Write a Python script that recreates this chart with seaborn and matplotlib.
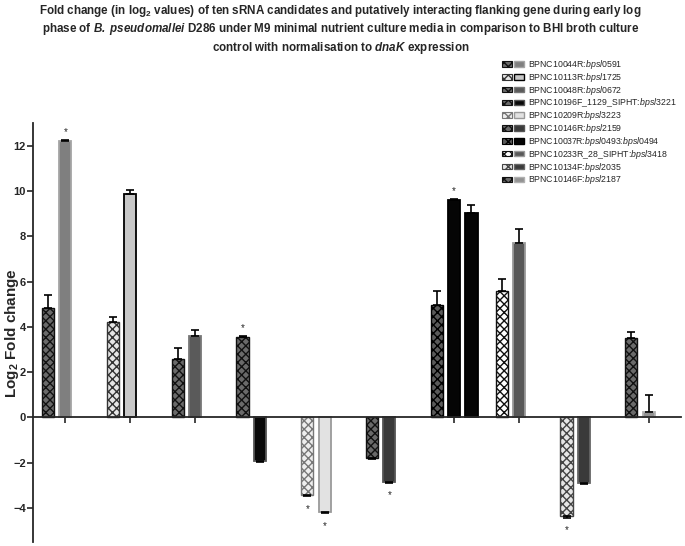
import matplotlib
matplotlib.use('Agg')
import matplotlib.pyplot as plt
import seaborn as sns
import pandas as pd
from matplotlib.patches import Patch
from matplotlib.legend_handler import HandlerTuple

# sRNA candidates and their flanking genes
srna = ['BPNC10044R', 'BPNC10113R', 'BPNC10048R', 'BPNC10196F_1129_SIPHT', 'BPNC10209R',
        'BPNC10146R', 'BPNC10037R', 'BPNC10233R_28_SIPHT', 'BPNC10134F', 'BPNC10146F']
genes = ['bpsl0591', 'bpsl1725', 'bpsl0672', 'bpsl3221', 'bpsl3223',
         'bpsl2159', 'bpsl0493:bpsl0494', 'bpsl3418', 'bpsl2035', 'bpsl2187']

# log2 fold change values
srna_val = [4.82, 4.2, 2.58, 3.55, -3.44, -1.8, 4.95, 5.57, -4.37, 3.51]
srna_err = [0.6, 0.25, 0.47, 0.05, 0.05, 0.05, 0.63, 0.56, 0.05, 0.25]
gene_val = [12.2, 9.87, 3.6, -1.92, -4.19, -2.83, 9.58, 7.7, -2.88, 0.22]
gene_err = [0.05, 0.17, 0.25, 0.05, 0.05, 0.05, 0.05, 0.6, 0.05, 0.75]
gene2_val = [None, None, None, None, None, None, 9.04, None, None, None]
gene2_err = [0, 0, 0, 0, 0, 0, 0.34, 0, 0, 0]

# significance marks: (group, role)
stars = [(0, 'gene'), (3, 'sRNA'), (4, 'sRNA'), (4, 'gene'), (5, 'gene'), (6, 'gene'), (8, 'sRNA')]

# styles: sRNA bars are checkered (face, hatch colour), genes are plain greys
srna_face = ['#6a6a6a', '#e6e6e6', '#6a6a6a', '#6a6a6a', '#eeeeee',
             '#6a6a6a', '#5a5a5a', '#ffffff', '#e6e6e6', '#6a6a6a']
srna_hatch = ['#111111', '#333333', '#111111', '#111111', '#777777',
              '#111111', '#000000', '#111111', '#444444', '#111111']
gene_face = ['#7f7f7f', '#c8c8c8', '#5a5a5a', '#080808', '#e2e2e2',
             '#3a3a3a', '#050505', '#585858', '#3a3a3a', '#929292']
gene_edge = ['#a5a5a5', '#000000', '#777777', '#555555', '#9a9a9a',
             '#555555', '#000000', '#9a9a9a', '#666666', '#b0b0b0']

rows = []
for i, s in enumerate(srna):
    rows.append((s, 'sRNA', srna_val[i]))
    rows.append((s, 'gene', gene_val[i]))
    if gene2_val[i] is not None:
        rows.append((s, 'gene2', gene2_val[i]))
df = pd.DataFrame(rows, columns=['group', 'role', 'value'])

sns.set_style('ticks')
plt.rcParams['font.family'] = ['Liberation Sans', 'DejaVu Sans']
plt.rcParams['mathtext.fontset'] = 'custom'
plt.rcParams['mathtext.rm'] = 'Liberation Sans'
plt.rcParams['mathtext.it'] = 'Liberation Sans:italic'
plt.rcParams['mathtext.bf'] = 'Liberation Sans:bold'
plt.rcParams['mathtext.bfit'] = 'Liberation Sans:italic:bold'
plt.rcParams['hatch.linewidth'] = 1.0

fig = plt.figure(figsize=(6.85, 5.46), dpi=100)
ax = fig.add_axes([33 / 685, 4 / 546, 648 / 685, 419 / 546])

sns.barplot(data=df, x='group', y='value', hue='role', order=srna,
            hue_order=['sRNA', 'gene', 'gene2'], width=0.8, gap=0.3,
            errorbar=None, legend=False, ax=ax)

vals = {'sRNA': srna_val, 'gene': gene_val, 'gene2': gene2_val}
errs = {'sRNA': srna_err, 'gene': gene_err, 'gene2': gene2_err}
centers = {}
for p in ax.patches:
    cx = p.get_x() + p.get_width() / 2
    g = int(round(cx))
    off = cx - g
    role = 'sRNA' if off < -0.1 else ('gene2' if off > 0.1 else 'gene')
    centers[(g, role)] = cx
    if role == 'sRNA':
        p.set_facecolor(srna_face[g])
        p.set_edgecolor(srna_hatch[g])
        p.set_hatch('xxxx')
        p.set_linewidth(1.0)
    else:
        p.set_facecolor(gene_face[g])
        p.set_edgecolor(gene_edge[g])
        p.set_linewidth(1.3)
    v = vals[role][g]
    e = errs[role][g]
    yerr = [[0], [e]] if v > 0 else [[e], [0]]
    ax.errorbar(cx, v, yerr=yerr, fmt='none', ecolor='black', elinewidth=1.2,
                capsize=3, capthick=1.2, zorder=3)

for g, role in stars:
    v = vals[role][g]
    e = errs[role][g]
    if v > 0:
        ax.text(centers[(g, role)], v + e + 0.35, '*', ha='center', va='center', fontsize=7)
    else:
        ax.text(centers[(g, role)], v - e - 0.55, '*', ha='center', va='center', fontsize=7)

ax.set_xlim(-0.5, 9.5)
ax.set_ylim(-5.5, 13.0)
ax.set_yticks([-4, -2, 0, 2, 4, 6, 8, 10, 12])
ax.set_xticks(range(10))
ax.set_xticklabels([])
ax.set_xlabel('')
ax.set_ylabel('')
ax.spines['right'].set_visible(False)
ax.spines['top'].set_visible(False)
ax.spines['bottom'].set_position(('data', 0))
ax.spines['bottom'].set_linewidth(1.3)
ax.spines['left'].set_linewidth(1.3)
ax.tick_params(axis='y', length=4, width=1.2, labelsize=8, pad=1)
ax.tick_params(axis='x', length=4, width=1.2, direction='out')
for t in ax.get_yticklabels():
    t.set_fontweight('bold')

fig.text(12 / 685, 1 - 333 / 546, r'Log$_\mathbf{2}$ Fold change', rotation=90,
         ha='center', va='center', fontsize=11, fontweight='bold')

title = ('Fold change (in log$_\\mathbf{2}$ values) of ten sRNA candidates and putatively interacting flanking gene during early log\n'
         'phase of $\\mathbfit{B.\\ pseudomallei}$ D286 under M9 minimal nutrient culture media in comparison to BHI broth culture\n'
         'control with normalisation to $\\mathbfit{dnaK}$ expression')
fig.text(0.497, 1 - 3 / 546, title, ha='center', va='top', fontsize=8.4,
         fontweight='bold', linespacing=1.22)

handles = []
labels = []
for i in range(10):
    h1 = Patch(facecolor=srna_face[i], edgecolor=srna_hatch[i], hatch='xxxx', linewidth=0.8)
    h2 = Patch(facecolor=gene_face[i], edgecolor=gene_edge[i], linewidth=1.0)
    handles.append((h1, h2))
    gtxt = ':'.join('$\\mathit{%s}$' % x for x in genes[i].split(':'))
    labels.append(srna[i] + ':' + gtxt)

fig.legend(handles, labels, handler_map={tuple: HandlerTuple(ndivide=None, pad=0.3)},
           loc='upper left', bbox_to_anchor=(502 / 685, 1 - 58 / 546), frameon=False,
           fontsize=6.3, handlelength=2.5, handleheight=0.6, handletextpad=0.5,
           labelspacing=-0.02, borderpad=0, borderaxespad=0)

fig.savefig('out.png', dpi=100, facecolor='white')
